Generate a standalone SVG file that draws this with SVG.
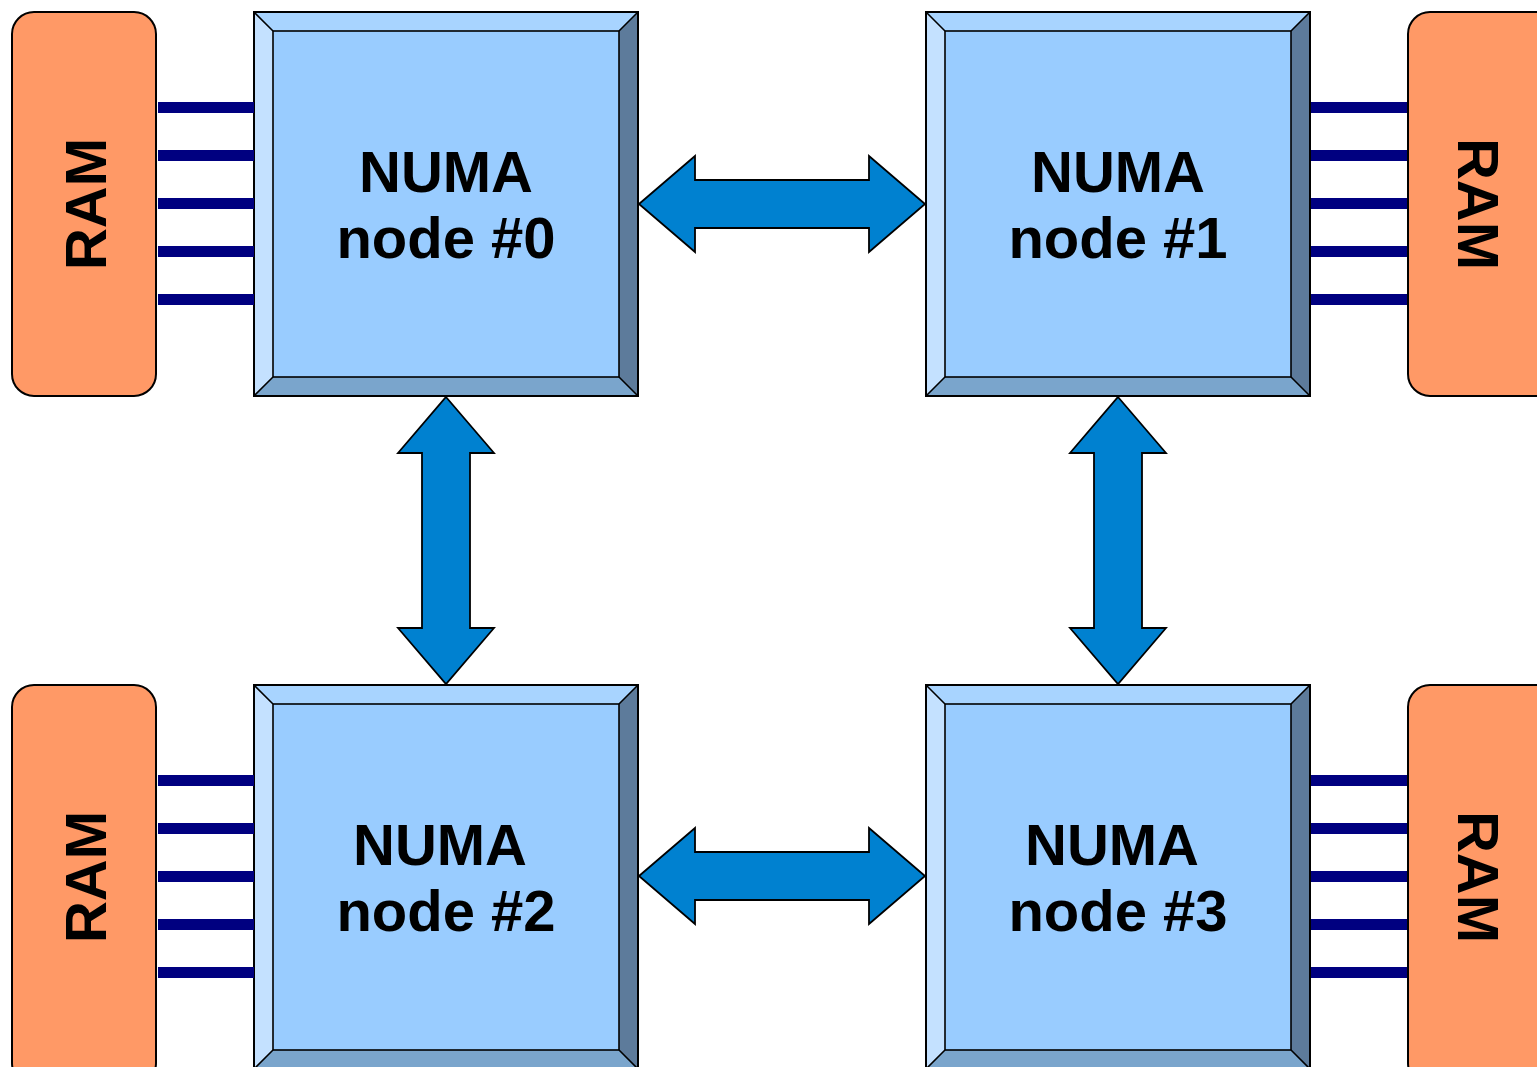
<svg xmlns="http://www.w3.org/2000/svg" xmlns:xlink="http://www.w3.org/1999/xlink" width="1537" height="1067" viewBox="0 0 1537 1067">
  <style>
    .ram { fill: #ff9966; stroke: #000; stroke-width: 2; }
    .bus { fill: #000080; }
    .arrow { fill: #0081d0; stroke: #000; stroke-width: 1.8; stroke-linejoin: miter; }
    .edge { stroke: #000; stroke-width: 2; stroke-linejoin: miter; }
    .label { font-family: "Liberation Sans", Arial, sans-serif; font-weight: bold; font-size: 58px; fill: #000; }
  </style>
  <defs>
    <!-- bevelled chip: 384 x 384 with a 19 px bevel -->
    <g id="chip">
      <rect x="19" y="19" width="346" height="346" fill="#99ccff"/>
      <polygon points="0,0 384,0 365,19 19,19" fill="#a8d4ff"/>
      <polygon points="0,0 19,19 19,365 0,384" fill="#c4e1ff"/>
      <polygon points="384,0 384,384 365,365 365,19" fill="#5d7b9b"/>
      <polygon points="0,384 384,384 365,365 19,365" fill="#7aa5cc"/>
      <g class="edge" fill="none">
        <rect x="0" y="0" width="384" height="384"/>
        <rect x="19" y="19" width="346" height="346" stroke-width="1.6"/>
        <path d="M0,0 L19,19 M384,0 L365,19 M384,384 L365,365 M0,384 L19,365" stroke-width="1.6"/>
      </g>
    </g>
    <!-- five-line memory bus, 96 px long -->
    <g id="bus">
      <rect class="bus" x="0" y="-5.5" width="96" height="11"/>
      <rect class="bus" x="0" y="42.5" width="96" height="11"/>
      <rect class="bus" x="0" y="90.5" width="96" height="11"/>
      <rect class="bus" x="0" y="138.5" width="96" height="11"/>
      <rect class="bus" x="0" y="186.5" width="96" height="11"/>
    </g>
  </defs>

  <rect width="1537" height="1067" fill="#fff"/>

  <!-- memory banks -->
  <g id="ram0">
    <rect class="ram" x="12" y="12" width="144" height="384" rx="22"/>
    <text class="label" transform="translate(106,204) rotate(-90)" text-anchor="middle">RAM</text>
  </g>
  <g id="ram1">
    <rect class="ram" x="1408" y="12" width="160" height="384" rx="22"/>
    <text class="label" transform="translate(1458,204) rotate(90)" text-anchor="middle">RAM</text>
  </g>
  <g id="ram2">
    <rect class="ram" x="12" y="685" width="144" height="400" rx="22"/>
    <text class="label" transform="translate(106,877) rotate(-90)" text-anchor="middle">RAM</text>
  </g>
  <g id="ram3">
    <rect class="ram" x="1408" y="685" width="160" height="400" rx="22"/>
    <text class="label" transform="translate(1458,877) rotate(90)" text-anchor="middle">RAM</text>
  </g>

  <!-- NUMA nodes -->
  <g id="node0">
    <use xlink:href="#chip" x="254" y="12"/>
    <text class="label" x="446" y="192" text-anchor="middle">NUMA</text>
    <text class="label" x="446" y="258" text-anchor="middle">node #0</text>
  </g>
  <g id="node1">
    <use xlink:href="#chip" x="926" y="12"/>
    <text class="label" x="1118" y="192" text-anchor="middle">NUMA</text>
    <text class="label" x="1118" y="258" text-anchor="middle">node #1</text>
  </g>
  <g id="node2">
    <use xlink:href="#chip" x="254" y="685"/>
    <text class="label" x="440" y="865" text-anchor="middle">NUMA</text>
    <text class="label" x="446" y="931" text-anchor="middle">node #2</text>
  </g>
  <g id="node3">
    <use xlink:href="#chip" x="926" y="685"/>
    <text class="label" x="1112" y="865" text-anchor="middle">NUMA</text>
    <text class="label" x="1118" y="931" text-anchor="middle">node #3</text>
  </g>

  <!-- connectors: memory buses and interconnect links -->
  <g id="connectors">
    <use xlink:href="#bus" x="158" y="107.5"/>
    <use xlink:href="#bus" x="1311" y="107.5"/>
    <use xlink:href="#bus" x="158" y="780.5"/>
    <use xlink:href="#bus" x="1311" y="780.5"/>

    <polygon class="arrow" points="639,204 695,156 695,180 869,180 869,156 925,204 869,252 869,228 695,228 695,252"/>
    <polygon class="arrow" points="639,876 695,828 695,852 869,852 869,828 925,876 869,924 869,900 695,900 695,924"/>
    <polygon class="arrow" points="446,397 494,453 470,453 470,628 494,628 446,684 398,628 422,628 422,453 398,453"/>
    <polygon class="arrow" points="1118,397 1166,453 1142,453 1142,628 1166,628 1118,684 1070,628 1094,628 1094,453 1070,453"/>
  </g>
</svg>
